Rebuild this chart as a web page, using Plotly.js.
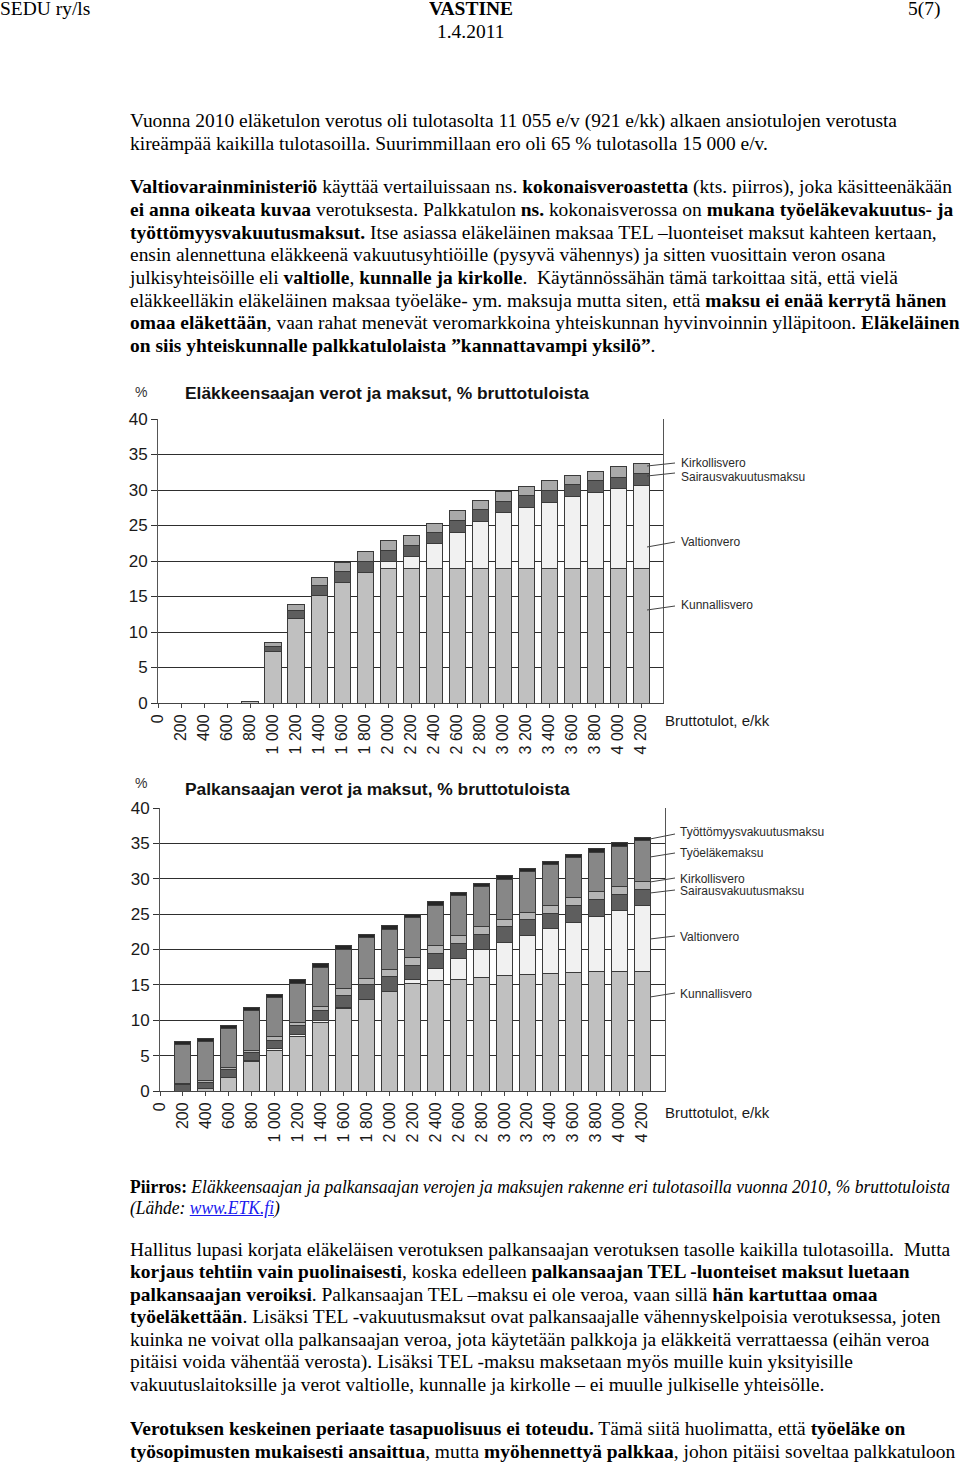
<!DOCTYPE html>
<html>
<head>
<meta charset="utf-8">
<script src="https://cdn.plot.ly/plotly-3.0.1.min.js"></script>
<style>
  html, body { margin:0; padding:0; background:#fff; }
  body { width:960px; height:1464px; position:relative; overflow:hidden; font-family:"Liberation Serif","Times New Roman",serif; color:#000; }
  .ln { position:absolute; white-space:pre; font-size:19px; line-height:22px; transform-origin:0 50%; }
  .ln a { color:#1a1aee; text-decoration:underline; }
  .chart { position:absolute; left:0; }
</style>
</head>
<body>
<div class="ln" id="h1" style="left:0;top:-2px;">SEDU ry/ls</div>
<div class="ln" id="h2" style="left:430px;top:-2px;"><b>VASTINE</b></div>
<div class="ln" id="h3" style="left:907px;top:-2px;">5(7)</div>
<div class="ln" id="h4" style="left:435px;top:21px;">1.4.2011</div>

<div class="ln" id="l1" style="left:130px;top:110px;">Vuonna 2010 eläketulon verotus oli tulotasolta 11 055 e/v (921 e/kk) alkaen ansiotulojen verotusta</div>
<div class="ln" style="left:130px;top:133px;">kireämpää kaikilla tulotasoilla. Suurimmillaan ero oli 65 % tulotasolla 15 000 e/v.</div>

<div class="ln" style="left:130px;top:176px;"><b>Valtiovarainministeriö</b> käyttää vertailuissaan ns. <b>kokonaisveroastetta</b> (kts. piirros), joka käsitteenäkään</div>
<div class="ln" style="left:130px;top:199px;"><b>ei anna oikeata kuvaa</b> verotuksesta. Palkkatulon <b>ns.</b> kokonaisverossa on <b>mukana työeläkevakuutus- ja</b></div>
<div class="ln" style="left:130px;top:222px;"><b>työttömyysvakuutusmaksut.</b> Itse asiassa eläkeläinen maksaa TEL –luonteiset maksut kahteen kertaan,</div>
<div class="ln" style="left:130px;top:244px;">ensin alennettuna eläkkeenä vakuutusyhtiöille (pysyvä vähennys) ja sitten vuosittain veron osana</div>
<div class="ln" style="left:130px;top:267px;">julkisyhteisöille eli <b>valtiolle</b>, <b>kunnalle ja kirkolle</b>.  Käytännössähän tämä tarkoittaa sitä, että vielä</div>
<div class="ln" style="left:130px;top:290px;">eläkkeelläkin eläkeläinen maksaa työeläke- ym. maksuja mutta siten, että <b>maksu ei enää kerrytä hänen</b></div>
<div class="ln" style="left:130px;top:312px;"><b>omaa eläkettään</b>, vaan rahat menevät veromarkkoina yhteiskunnan hyvinvoinnin ylläpitoon. <b>Eläkeläinen</b></div>
<div class="ln" style="left:130px;top:335px;"><b>on siis yhteiskunnalle palkkatulolaista ”kannattavampi yksilö”</b>.</div>

<div class="chart" id="chart1" style="top:375px;width:840px;height:380px;"></div>
<div class="chart" id="chart2" style="top:765px;width:840px;height:395px;"></div>

<div class="ln cap" id="cap1" style="left:130px;top:1176px;"><b>Piirros:</b> <i>Eläkkeensaajan ja palkansaajan verojen ja maksujen rakenne eri tulotasoilla vuonna 2010, % bruttotuloista</i></div>
<div class="ln cap" style="left:130px;top:1197px;"><i>(Lähde: <a href="#">www.ETK.fi</a>)</i></div>

<div class="ln" style="left:130px;top:1239px;">Hallitus lupasi korjata eläkeläisen verotuksen palkansaajan verotuksen tasolle kaikilla tulotasoilla.  Mutta</div>
<div class="ln" style="left:130px;top:1261px;"><b>korjaus tehtiin vain puolinaisesti</b>, koska edelleen <b>palkansaajan TEL -luonteiset maksut luetaan</b></div>
<div class="ln" style="left:130px;top:1284px;"><b>palkansaajan veroiksi</b>. Palkansaajan TEL –maksu ei ole veroa, vaan sillä <b>hän kartuttaa omaa</b></div>
<div class="ln" style="left:130px;top:1306px;"><b>työeläkettään</b>. Lisäksi TEL -vakuutusmaksut ovat palkansaajalle vähennyskelpoisia verotuksessa, joten</div>
<div class="ln" style="left:130px;top:1329px;">kuinka ne voivat olla palkansaajan veroa, jota käytetään palkkoja ja eläkkeitä verrattaessa (eihän veroa</div>
<div class="ln" style="left:130px;top:1351px;">pitäisi voida vähentää verosta). Lisäksi TEL -maksu maksetaan myös muille kuin yksityisille</div>
<div class="ln" style="left:130px;top:1374px;">vakuutuslaitoksille ja verot valtiolle, kunnalle ja kirkolle – ei muulle julkiselle yhteisölle.</div>

<div class="ln" style="left:130px;top:1418px;"><b>Verotuksen keskeinen periaate tasapuolisuus ei toteudu.</b> Tämä siitä huolimatta, että <b>työeläke on</b></div>
<div class="ln" style="left:130px;top:1441px;"><b>työsopimusten mukaisesti ansaittua</b>, mutta <b>myöhennettyä palkkaa</b>, johon pitäisi soveltaa palkkatuloon</div>

<script>
// ---------- DATA ----------
const incomes = [0,200,400,600,800,1000,1200,1400,1600,1800,2000,2200,2400,2600,2800,3000,3200,3400,3600,3800,4000,4200];
const incomeLabels = ['0','200','400','600','800','1 000','1 200','1 400','1 600','1 800','2 000','2 200','2 400','2 600','2 800','3 000','3 200','3 400','3 600','3 800','4 000','4 200'];

// Eläkkeensaaja (pensioner), % of gross income
const pensKunnallisvero = [0,0,0,0,0.2,7.2,11.9,15.2,17.0,18.4,19.0,18.9,18.9,18.9,18.9,18.9,18.9,18.9,18.9,18.9,18.9,18.9];
const pensValtionvero   = [0,0,0,0,0,0,0,0,0,0,0.9,1.7,3.6,5.15,6.65,7.9,8.7,9.4,10.2,10.7,11.3,11.75];
const pensSairaus       = [0,0,0,0,0,0.7,1.1,1.4,1.55,1.6,1.65,1.6,1.55,1.7,1.65,1.6,1.6,1.65,1.65,1.75,1.6,1.7];
const pensKirkollisvero = [0,0,0,0,0,0.6,0.85,1.1,1.2,1.35,1.4,1.4,1.27,1.36,1.36,1.4,1.36,1.35,1.25,1.25,1.45,1.35];

// Palkansaaja (wage earner), % of gross income
const wageKunnallisvero = [0,0,0.3,1.93,4.15,5.7,7.7,9.67,11.7,13.0,14.05,15.2,15.57,15.8,16.1,16.3,16.4,16.55,16.7,16.85,16.95,16.95];
const wageValtionvero   = [0,0,0,0,0.15,0.3,0.3,0.25,0.15,0,0,0.5,1.7,2.9,3.96,4.7,5.57,6.37,7.1,7.8,8.6,9.3];
const wageSairaus       = [0,0.95,0.95,1.13,1.13,1.2,1.2,1.4,1.7,2.0,2.2,2.1,2.2,2.17,2.1,2.26,2.26,2.17,2.36,2.36,2.26,2.2];
const wageKirkollisvero = [0,0.1,0.3,0.28,0.25,0.45,0.45,0.6,0.9,0.94,0.94,1.1,1.1,1.1,1.04,1.04,1.04,1.18,1.18,1.2,1.13,1.22];
const wageTyoelake      = [0,5.55,5.4,5.5,5.7,5.5,5.6,5.6,5.57,5.75,5.7,5.6,5.7,5.66,5.66,5.66,5.7,5.75,5.6,5.57,5.66,5.7];
const wageTyottomyys    = [0,0.45,0.47,0.47,0.47,0.52,0.47,0.57,0.57,0.47,0.47,0.47,0.47,0.47,0.47,0.47,0.47,0.47,0.47,0.47,0.47,0.47];

// ---------- STYLE ----------
const FONT = 'Liberation Sans, Arial, sans-serif';
const C = { kunn:'#c0c0c0', valt:'#f1f1f1', sair:'#5e5e5e', kirk:'#a9a9a9', kirk2:'#b5b5b5', tyoel:'#878787', tyott:'#262626' };

function bar(name, y, color) {
  return { type:'bar', name, x:incomes, y, width:140, marker:{ color, line:{ color:'#3a3a3a', width:1 } }, hoverinfo:'skip' };
}

function baseLayout(W, H, l, r, t, b, xmax, titleText, titleY) {
  return {
    width:W, height:H, margin:{ l, r, t, b, pad:0 },
    paper_bgcolor:'rgba(0,0,0,0)', plot_bgcolor:'#ffffff',
    barmode:'stack', showlegend:false,
    font:{ family:FONT, color:'#1a1a1a' },
    title:{ text:'<b>'+titleText+'</b>', font:{ family:FONT, size:17.4, color:'#111' }, x:185/W, xanchor:'left', xref:'container', y:1-titleY/H, yanchor:'middle', yref:'container' },
    xaxis:{ range:[0, xmax], tickmode:'array', tickvals:incomes, ticktext:incomeLabels, tickangle:-90,
            ticks:'outside', ticklen:4, tickcolor:'#444', showline:true, linecolor:'#444', linewidth:1,
            showgrid:false, zeroline:false, tickfont:{ family:FONT, size:16, color:'#1a1a1a' }, fixedrange:true },
    yaxis:{ range:[0,40], tick0:0, dtick:5, showgrid:true, gridcolor:'#2e2e2e', gridwidth:1,
            showline:true, mirror:true, linecolor:'#555', linewidth:1, ticks:'outside', ticklen:6, tickcolor:'#333',
            zeroline:false, tickfont:{ family:FONT, size:17, color:'#1a1a1a' }, fixedrange:true }
  };
}

function labelAnn(text, xPaper, yPaper, size) {
  return { text, xref:'paper', yref:'paper', x:xPaper, y:yPaper, xanchor:'left', yanchor:'middle', showarrow:false,
           font:{ family:FONT, size:size||12, color:'#2a2a2a' } };
}
function leader(x0, y0, x1, y1) {
  return { type:'line', xref:'paper', yref:'paper', x0, y0, x1, y1, line:{ color:'#444', width:1 } };
}

// ---------- CHART 1 ----------
(function(){
  const W=840, H=380, L=158, R=W-663, T=44, B=H-(703-375);
  const pw = W-L-R, ph = H-T-B;
  const px = v => (v-L)/pw, py = v => (703-v)/ph;
  const layout = baseLayout(W,H,L,R,T,B,4390,'Eläkkeensaajan verot ja maksut, % bruttotuloista',393-375);
  layout.annotations = [
    { text:'%', xref:'paper', yref:'paper', x:px(141), y:py(392), xanchor:'center', yanchor:'middle', showarrow:false, font:{ family:FONT, size:14, color:'#333' } },
    labelAnn('Kirkollisvero', px(679), py(463)),
    labelAnn('Sairausvakuutusmaksu', px(679), py(477)),
    labelAnn('Valtionvero', px(679), py(542)),
    labelAnn('Kunnallisvero', px(679), py(605)),
    labelAnn('Bruttotulot, e/kk', px(663), py(720), 15)
  ];
  layout.annotations[5].font.color = '#1a1a1a';
  layout.shapes = [
    leader(px(647),py(466),px(675),py(463)),
    leader(px(647),py(476),px(675),py(473)),
    leader(px(647),py(547),px(675),py(542)),
    leader(px(647),py(610),px(675),py(606))
  ];
  const data = [
    bar('Kunnallisvero', pensKunnallisvero, C.kunn),
    bar('Valtionvero', pensValtionvero, C.valt),
    bar('Sairausvakuutusmaksu', pensSairaus, C.sair),
    bar('Kirkollisvero', pensKirkollisvero, C.kirk)
  ];
  Plotly.newPlot('chart1', data, layout, { staticPlot:true, displayModeBar:false });
})();

// ---------- CHART 2 ----------
(function(){
  const W=840, H=395, L=160, R=W-665, T=808-765, B=H-(1091-765);
  const pw = W-L-R, ph = H-T-B;
  const px = v => (v-L)/pw, py = v => (1091-v)/ph;
  const layout = baseLayout(W,H,L,R,T,B,4400,'Palkansaajan verot ja maksut, % bruttotuloista',789-765);
  layout.annotations = [
    { text:'%', xref:'paper', yref:'paper', x:px(141), y:py(783), xanchor:'center', yanchor:'middle', showarrow:false, font:{ family:FONT, size:14, color:'#333' } },
    labelAnn('Työttömyysvakuutusmaksu', px(678), py(832)),
    labelAnn('Työeläkemaksu', px(678), py(853)),
    labelAnn('Kirkollisvero', px(678), py(879)),
    labelAnn('Sairausvakuutusmaksu', px(678), py(891)),
    labelAnn('Valtionvero', px(678), py(937)),
    labelAnn('Kunnallisvero', px(678), py(994)),
    labelAnn('Bruttotulot, e/kk', px(663), py(1112), 15)
  ];
  layout.annotations[7].font.color = '#1a1a1a';
  layout.shapes = [
    leader(px(650),py(839),px(675),py(834)),
    leader(px(650),py(857),px(675),py(853)),
    leader(px(650),py(882),px(675),py(878)),
    leader(px(650),py(893),px(675),py(890)),
    leader(px(650),py(939),px(675),py(936)),
    leader(px(650),py(997),px(675),py(993))
  ];
  const data = [
    bar('Kunnallisvero', wageKunnallisvero, C.kunn),
    bar('Valtionvero', wageValtionvero, C.valt),
    bar('Sairausvakuutusmaksu', wageSairaus, C.sair),
    bar('Kirkollisvero', wageKirkollisvero, C.kirk2),
    bar('Työeläkemaksu', wageTyoelake, C.tyoel),
    bar('Työttömyysvakuutusmaksu', wageTyottomyys, C.tyott)
  ];
  Plotly.newPlot('chart2', data, layout, { staticPlot:true, displayModeBar:false });
})();

// ---------- text horizontal compression to match the reference ----------
(function(){
  const w = document.getElementById('l1').getBoundingClientRect().width;
  const s = 767 / w;
  document.querySelectorAll('.ln').forEach(e => { e.style.transform = 'scaleX(' + s + ')'; });
  // caption lines: fit the long caption line between x=130 and x=950
  const wc = document.getElementById('cap1').getBoundingClientRect().width / s;
  const sc = Math.min(s, 820 / wc);
  document.querySelectorAll('.cap').forEach(e => { e.style.transform = 'scaleX(' + sc + ')'; });
  // header items: centre / right alignment
  const h2 = document.getElementById('h2'); const w2 = h2.getBoundingClientRect().width;
  h2.style.left = (471 - w2/2) + 'px';
  const h4 = document.getElementById('h4'); const w4 = h4.getBoundingClientRect().width;
  h4.style.left = (471 - w4/2) + 'px';
  const h3 = document.getElementById('h3'); const w3 = h3.getBoundingClientRect().width;
  h3.style.left = (940 - w3) + 'px';
})();
</script>
</body>
</html>
